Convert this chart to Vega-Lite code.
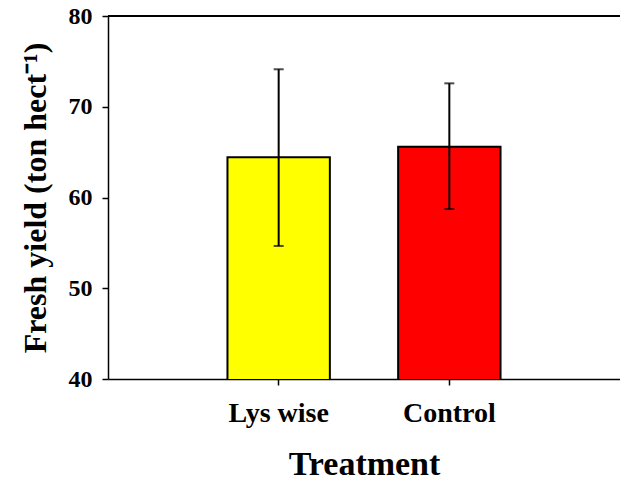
{
  "$schema": "https://vega.github.io/schema/vega-lite/v6.json",
  "autosize": {"type": "none"},
  "padding": {"left": 108, "top": 16, "right": 0, "bottom": 104},
  "width": 512,
  "height": 363,
  "config": {
    "view": {"stroke": null},
    "font": "Liberation Serif",
    "axis": {
      "domainColor": "black",
      "domainWidth": 1.5,
      "tickColor": "black",
      "tickWidth": 1.5,
      "labelColor": "black",
      "titleColor": "black",
      "labelFont": "Liberation Serif",
      "titleFont": "Liberation Serif",
      "labelFontWeight": "bold",
      "titleFontWeight": "bold",
      "grid": false
    }
  },
  "data": {
    "values": [
      {"treatment": "Lys wise", "yield": 64.43, "low": 54.66, "high": 74.13},
      {"treatment": "Control", "yield": 65.6, "low": 58.73, "high": 72.58}
    ]
  },
  "layer": [
    {
      "mark": {"type": "bar", "stroke": "black", "strokeWidth": 2, "clip": true},
      "encoding": {
        "x": {
          "field": "treatment",
          "type": "nominal",
          "sort": ["Lys wise", "Control"],
          "scale": {"paddingInner": 0.4, "paddingOuter": 0.7},
          "axis": {
            "title": "Treatment",
            "labelAngle": 0,
            "labelFontSize": 28,
            "titleFontSize": 34,
            "tickSize": 6,
            "labelPadding": 14,
            "titlePadding": 20
          }
        },
        "y": {
          "field": "yield",
          "type": "quantitative",
          "scale": {"domain": [40, 80], "zero": false, "nice": false},
          "axis": {
            "title": "Fresh yield (ton hect⁻¹)",
            "values": [40, 50, 60, 70, 80],
            "labelFontSize": 24,
            "titleFontSize": 32,
            "tickSize": 6,
            "labelPadding": 10,
            "titlePadding": 16
          }
        },
        "color": {
          "field": "treatment",
          "type": "nominal",
          "scale": {"domain": ["Lys wise", "Control"], "range": ["#FFFF00", "#FF0000"]},
          "legend": null
        }
      }
    },
    {
      "mark": {"type": "rule", "color": "black", "strokeWidth": 2},
      "encoding": {
        "x": {"field": "treatment", "type": "nominal", "sort": ["Lys wise", "Control"]},
        "y": {"field": "low", "type": "quantitative"},
        "y2": {"field": "high"}
      }
    },
    {
      "mark": {"type": "tick", "color": "black", "size": 10, "thickness": 2},
      "encoding": {
        "x": {"field": "treatment", "type": "nominal", "sort": ["Lys wise", "Control"]},
        "y": {"field": "low", "type": "quantitative"}
      }
    },
    {
      "mark": {"type": "tick", "color": "black", "size": 10, "thickness": 2},
      "encoding": {
        "x": {"field": "treatment", "type": "nominal", "sort": ["Lys wise", "Control"]},
        "y": {"field": "high", "type": "quantitative"}
      }
    },
    {
      "mark": {"type": "rule", "color": "black", "strokeWidth": 2},
      "encoding": {"y": {"datum": 80}}
    }
  ]
}
